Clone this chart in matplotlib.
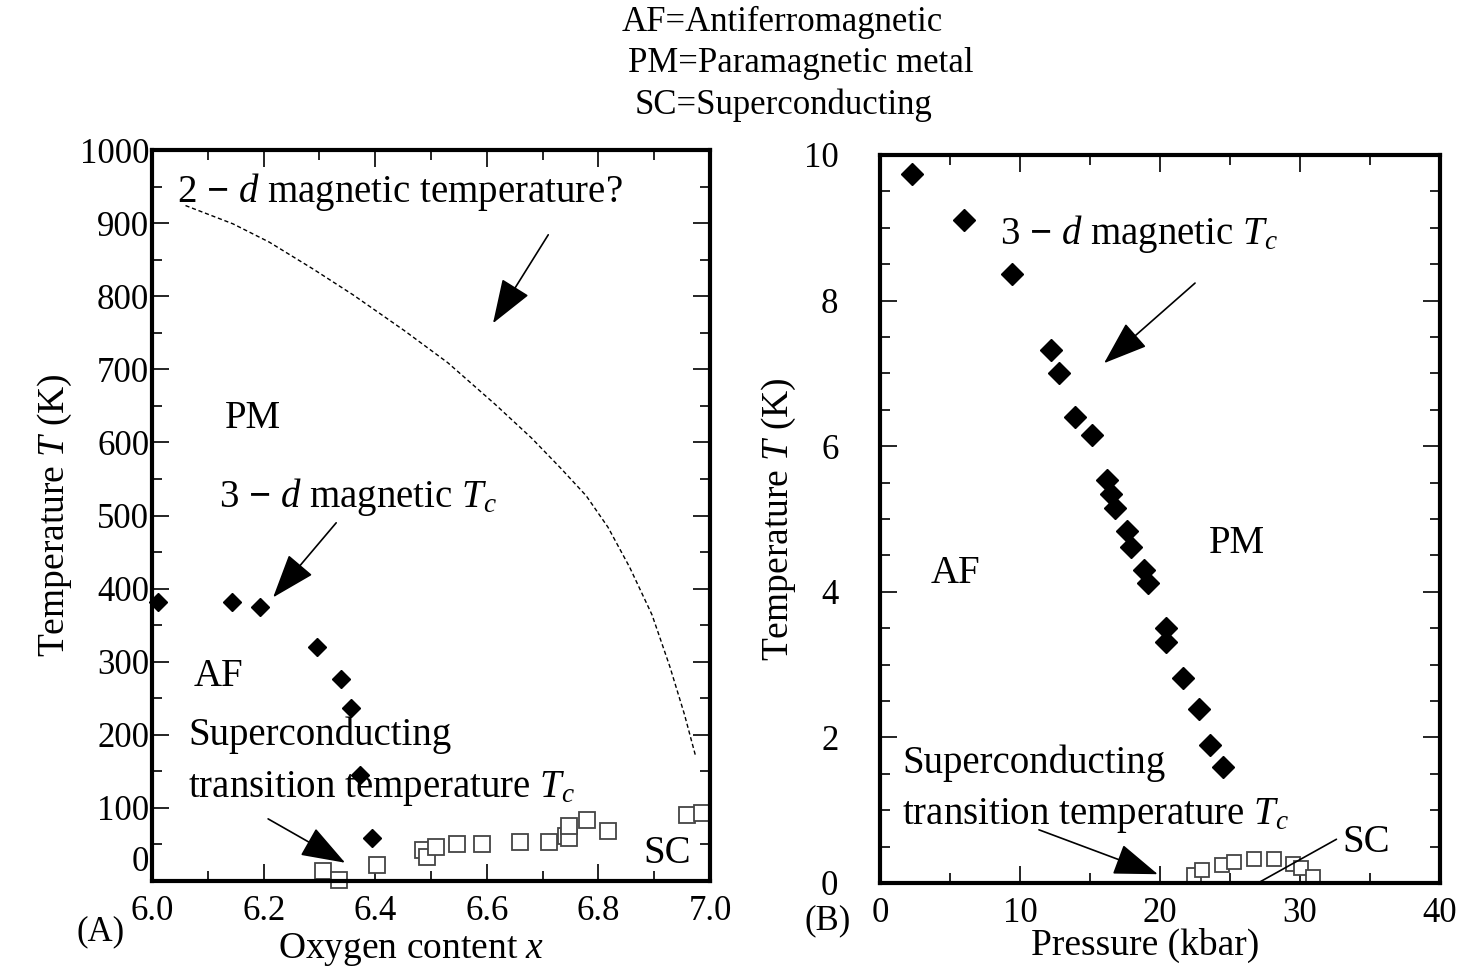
import numpy as np
import matplotlib.pyplot as plt
from matplotlib.ticker import MultipleLocator, FuncFormatter

plt.rcParams['font.family'] = ['Liberation Serif', 'DejaVu Serif']
plt.rcParams['mathtext.fontset'] = 'custom'
plt.rcParams['mathtext.rm'] = 'Liberation Serif'
plt.rcParams['mathtext.it'] = 'Liberation Serif:italic'
plt.rcParams['mathtext.bf'] = 'Liberation Serif:bold'
plt.rcParams['font.size'] = 25

# (A) oxygen content
afx = [6.011, 6.144, 6.194, 6.295, 6.338, 6.356, 6.372, 6.395]
afT = [382, 382, 375, 320, 276, 237, 145, 59]
scx = [6.306, 6.335, 6.403, 6.485, 6.493, 6.509, 6.546, 6.591, 6.659, 6.711,
       6.742, 6.748, 6.748, 6.779, 6.817, 6.959, 6.985]
scT = [14, 1, 22, 42, 33, 46, 50, 50, 53, 53, 61, 59, 75, 83, 68, 90, 93]
curve_x = [6.060, 6.145, 6.210, 6.289, 6.360, 6.452, 6.530, 6.615, 6.680, 6.732,
           6.778, 6.817, 6.856, 6.896, 6.928, 6.954, 6.974]
curve_T = [924, 899, 874, 837, 802, 753, 709, 652, 606, 565,
           527, 484, 429, 364, 293, 228, 171]

# (B) pressure
afp = [2.28, 6.0, 9.39, 12.23, 12.81, 13.95, 15.12, 16.2, 16.5, 16.8, 17.67,
       17.9, 18.86, 19.12, 20.45, 20.45, 21.64, 22.76, 23.55, 24.48]
afpT = [9.74, 9.11, 8.37, 7.32, 7.0, 6.40, 6.15, 5.53, 5.34, 5.15, 4.83,
        4.62, 4.30, 4.12, 3.50, 3.31, 2.81, 2.39, 1.89, 1.59]
scp = [22.44, 23.02, 24.43, 25.28, 26.74, 28.12, 29.52, 30.1, 30.93]
scpT = [0.11, 0.18, 0.24, 0.29, 0.33, 0.33, 0.26, 0.20, 0.08]

fig = plt.figure(figsize=(14.59, 9.69), dpi=100)
ax1 = fig.add_axes([0.1042, 0.0908, 0.3825, 0.7544])
ax2 = fig.add_axes([0.6032, 0.0888, 0.3838, 0.7513])

arrow = dict(arrowstyle='-|>,head_length=1.4,head_width=0.5', color='k',
             lw=1.2, mutation_scale=20, shrinkA=0, shrinkB=0)
fs = 28  # annotation text
dash = r'$\mathbf{-}$'

for ax in (ax1, ax2):
    for s in ax.spines.values():
        s.set_linewidth(3)
    ax.tick_params(which='both', direction='in', top=True, right=True, width=1.2)
    ax.tick_params(which='major', length=12)
    ax.tick_params(which='minor', length=7)

# panel A
ax1.plot(curve_x, curve_T, 'k--', lw=1, dashes=(3, 2))
ax1.plot(afx, afT, 'D', color='k', ms=9, clip_on=False)
ax1.plot(scx, scT, 's', mfc='white', mec='#444444', mew=1.3, ms=11, clip_on=False)
ax1.set_xlim(6.0, 7.0)
ax1.set_ylim(0, 1000)
ax1.xaxis.set_major_locator(MultipleLocator(0.2))
ax1.xaxis.set_minor_locator(MultipleLocator(0.1))
ax1.yaxis.set_major_locator(MultipleLocator(100))
ax1.yaxis.set_minor_locator(MultipleLocator(50))
ax1.xaxis.set_major_formatter(FuncFormatter(lambda v, p: f'{v:.1f}'))
ax1.yaxis.set_major_formatter(FuncFormatter(lambda v, p: '' if v == 0 else f'{v:.0f}'))
ax1.annotate('0', xy=(0, 0), xycoords=('axes fraction', 'data'),
             xytext=(-2, 13), textcoords='offset points', ha='right', va='center',
             fontsize=25)
ax1.tick_params(axis='x', pad=10)
ax1.tick_params(axis='y', pad=2)
ax1.set_xlabel('Oxygen content $x$', fontsize=27)
ax1.xaxis.set_label_coords(0.464, -0.068)
ax1.set_ylabel('Temperature $T$ (K)', labelpad=4, fontsize=27)

ax1.text(6.045, 942, '2 ' + dash + ' $d$ magnetic temperature?', va='center', fontsize=fs)
ax1.annotate('', xy=(6.611, 763), xytext=(6.71, 884), arrowprops=arrow)
ax1.text(6.13, 633, 'PM', va='center', fontsize=fs)
ax1.text(6.12, 525, '3 ' + dash + ' $d$ magnetic $T_c$', va='center', fontsize=fs)
ax1.annotate('', xy=(6.217, 388), xytext=(6.33, 490), arrowprops=arrow)
ax1.text(6.075, 280, 'AF', va='center', fontsize=fs)
ax1.text(6.065, 199, 'Superconducting', va='center', fontsize=fs)
ax1.text(6.065, 127, 'transition temperature $T_c$', va='center', fontsize=fs)
ax1.annotate('', xy=(6.346, 25), xytext=(6.208, 85), arrowprops=arrow)
ax1.text(6.88, 38, 'SC', va='center', fontsize=fs)

# panel B
ax2.plot(afp, afpT, 'D', color='k', ms=11, clip_on=False)
ax2.plot(scp, scpT, 's', mfc='white', mec='#444444', mew=1.3, ms=10, clip_on=False)
ax2.set_xlim(0, 40)
ax2.set_ylim(0, 10)
ax2.xaxis.set_major_locator(MultipleLocator(10))
ax2.xaxis.set_minor_locator(MultipleLocator(5))
ax2.yaxis.set_major_locator(MultipleLocator(2))
ax2.yaxis.set_minor_locator(MultipleLocator(0.5))
ax2.tick_params(axis='x', pad=10)
ax2.tick_params(axis='y', pad=30)
ax2.set_xlabel('Pressure (kbar)', fontsize=27)
ax2.xaxis.set_label_coords(0.473, -0.062)
ax2.set_ylabel('Temperature $T$ (K)', labelpad=4, fontsize=27)

ax2.text(8.6, 8.92, '3 ' + dash + ' $d$ magnetic $T_c$', va='center', fontsize=fs)
ax2.annotate('', xy=(16.0, 7.14), xytext=(22.5, 8.24), arrowprops=arrow)
ax2.text(23.5, 4.66, 'PM', va='center', fontsize=fs)
ax2.text(3.6, 4.25, 'AF', va='center', fontsize=fs)
ax2.text(1.6, 1.65, 'Superconducting', va='center', fontsize=fs)
ax2.text(1.6, 0.93, 'transition temperature $T_c$', va='center', fontsize=fs)
ax2.annotate('', xy=(19.84, 0.12), xytext=(11.35, 0.73), arrowprops=arrow)
ax2.annotate('', xy=(27.0, 0.0), xytext=(32.6, 0.6),
             arrowprops=dict(arrowstyle='-', color='k', lw=1.2, shrinkA=0, shrinkB=0))
ax2.text(33.0, 0.55, 'SC', va='center', fontsize=fs)

fig.text(0.536, 0.977, 'AF=Antiferromagnetic', ha='center', va='center')
fig.text(0.549, 0.934, 'PM=Paramagnetic metal', ha='center', va='center')
fig.text(0.537, 0.891, 'SC=Superconducting', ha='center', va='center')
fig.text(0.069, 0.038, '(A)', ha='center', va='center')
fig.text(0.567, 0.050, '(B)', ha='center', va='center')

fig.savefig('out.png', dpi=100)
